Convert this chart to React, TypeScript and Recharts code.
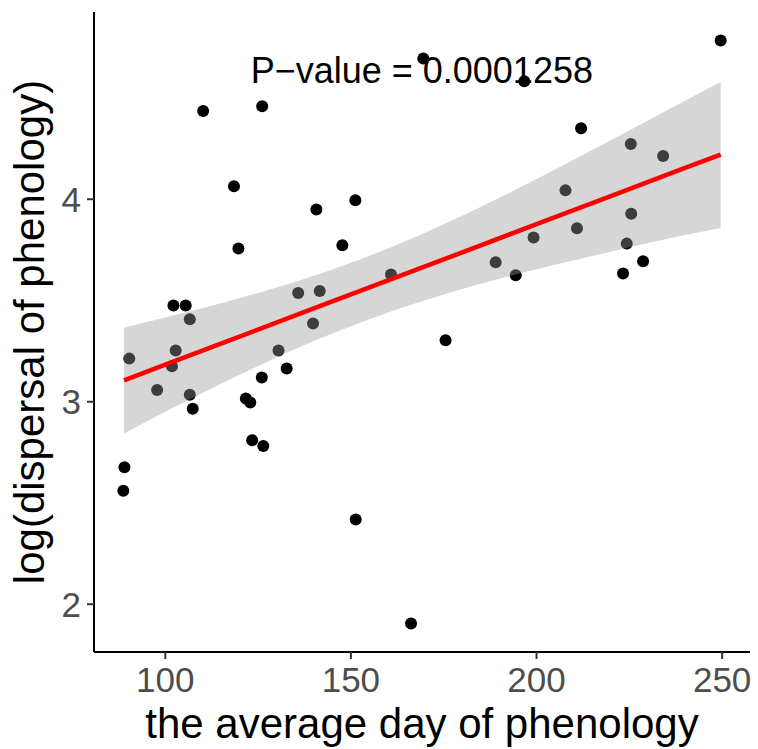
import React from 'react';
import {
    ComposedChart,
    Scatter,
    Area,
    Line,
    XAxis,
    YAxis,
    ReferenceDot,
} from 'recharts';

const dayValues = [
    88.7, 89.0, 90.3, 97.8, 101.8, 102.2, 102.8, 105.5, 106.6, 106.6,
    107.4, 110.2, 118.5, 119.7, 121.7, 122.9, 123.4, 126.0, 126.1, 126.4,
    130.5, 132.7, 135.8, 139.8, 140.7, 141.6, 147.7, 151.2, 151.3, 160.8,
    166.2, 169.5, 175.5, 189.0, 194.4, 196.7, 199.2, 207.8, 210.9, 212.0,
    223.3, 224.3, 225.4, 225.5, 228.7, 234.1, 249.6,
];
const logDispersal = [
    2.561, 2.677, 3.213, 3.058, 3.175, 3.475, 3.253, 3.475, 3.407, 3.034,
    2.965, 4.436, 4.064, 3.757, 3.016, 2.996, 2.810, 3.120, 4.459, 2.782,
    3.253, 3.164, 3.537, 3.386, 3.949, 3.547, 3.773, 3.995, 2.418, 3.628,
    1.905, 4.695, 3.304, 3.689, 3.625, 4.583, 3.811, 4.044, 3.857, 4.351,
    3.633, 3.781, 4.273, 3.928, 3.694, 4.214, 4.784,
];

// fitted line and its confidence band
const fitDays = [88.9, 100, 120, 140, 160, 180, 200, 220, 240, 249.6];
const fitValues = [3.106, 3.183, 3.322, 3.461, 3.599, 3.738, 3.877, 4.016, 4.155, 4.221];
const bandLow = [2.843, 2.950, 3.133, 3.300, 3.441, 3.557, 3.654, 3.741, 3.823, 3.858];
const bandHigh = [3.366, 3.416, 3.511, 3.622, 3.757, 3.919, 4.100, 4.291, 4.487, 4.579];

const xTicks = [100, 150, 200, 250];
const yTicks = [2, 3, 4];

const pLabel = 'P\u2212value = 0.0001258';

const points = dayValues.map((x, i) => ({ x, y: logDispersal[i] }));
const fitData = fitDays.map((x, i) => ({ x, fit: fitValues[i], band: [bandLow[i], bandHigh[i]] }));

const tickStyle = { fontSize: 35, fill: '#4D4D4D' };

export default function App() {
    return (
        <div style={{ position: 'absolute', left: 0, top: 0, fontFamily: '"Liberation Sans", Arial, Helvetica, sans-serif' }}>
            <ComposedChart width={758} height={749} margin={{ top: 12, right: 8, bottom: 0, left: 0 }}>
                <XAxis
                    dataKey="x"
                    type="number"
                    domain={[80.8, 257.5]}
                    ticks={xTicks}
                    height={97}
                    tickSize={7}
                    tickMargin={8}
                    tick={tickStyle}
                    axisLine={{ stroke: '#000', strokeWidth: 2 }}
                    tickLine={{ stroke: '#333', strokeWidth: 2 }}
                    label={{
                        value: 'the average day of phenology',
                        position: 'insideBottom',
                        offset: 11,
                        fontSize: 42,
                        fill: '#000',
                    }}
                />
                <YAxis
                    type="number"
                    domain={[1.764, 4.925]}
                    ticks={yTicks}
                    width={94}
                    tickSize={7}
                    tickMargin={6}
                    tick={tickStyle}
                    axisLine={{ stroke: '#000', strokeWidth: 2 }}
                    tickLine={{ stroke: '#333', strokeWidth: 2 }}
                    label={{
                        position: 'insideLeft',
                        content: ({ viewBox }: any) => {
                            const cx = viewBox.x + 29;
                            const cy = viewBox.y + viewBox.height / 2;
                            return (
                                <text
                                    x={cx}
                                    y={cy}
                                    transform={`rotate(-90 ${cx} ${cy})`}
                                    textAnchor="middle"
                                    dominantBaseline="central"
                                    fontSize={42}
                                    fill="#000"
                                >
                                    log(dispersal of phenology)
                                </text>
                            );
                        },
                    }}
                />
                <Scatter
                    data={points}
                    dataKey="y"
                    isAnimationActive={false}
                    shape={(p: any) => <circle cx={p.cx} cy={p.cy} r={6} fill="#000" />}
                />
                <Area
                    data={fitData}
                    dataKey="band"
                    type="monotone"
                    stroke="none"
                    fill="#999999"
                    fillOpacity={0.4}
                    isAnimationActive={false}
                    zIndex={700}
                />
                <Line
                    data={fitData}
                    dataKey="fit"
                    stroke="#FF0000"
                    strokeWidth={4.5}
                    dot={false}
                    isAnimationActive={false}
                    zIndex={800}
                />
                <ReferenceDot
                    x={169.1}
                    y={4.637}
                    r={0}
                    fill="none"
                    stroke="none"
                    label={{ value: pLabel, position: 'center', fontSize: 36, fill: '#000' }}
                />
            </ComposedChart>
        </div>
    );
}
